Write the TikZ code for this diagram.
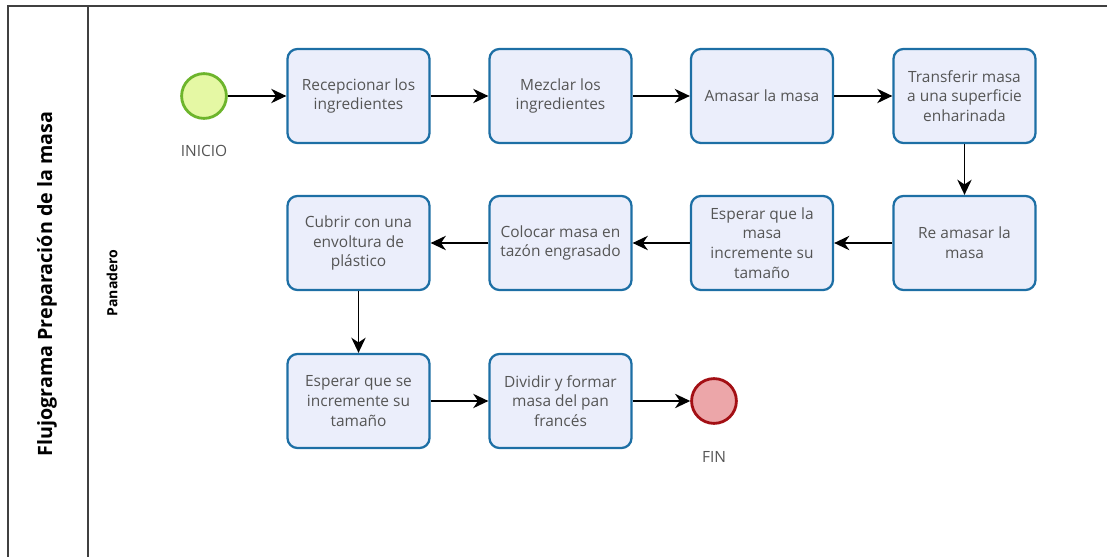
\documentclass[tikz,border=0pt]{standalone}
\usepackage{fontspec}
\setmainfont{Open Sans}
\usetikzlibrary{arrows.meta}
\definecolor{tarea}{HTML}{EBEEFB}
\definecolor{borde}{HTML}{1D6FA5}
\definecolor{texto}{HTML}{555555}
\definecolor{inicio}{HTML}{E5F8A4}
\definecolor{bordeinicio}{HTML}{6DB52C}
\definecolor{fin}{HTML}{ECA6A9}
\definecolor{bordefin}{HTML}{A30F14}
\tikzset{
  tarea/.style={draw=borde, line width=1.6pt, fill=tarea, rounded corners=2.5mm,
    minimum width=3.55cm, minimum height=2.35cm, align=center, text=texto,
    font=\fontsize{11}{14}\selectfont},
  evento/.style={circle, line width=2pt, minimum size=1.12cm, inner sep=0pt},
  etiqueta/.style={text=texto, font=\fontsize{11}{13}\selectfont},
  flujo/.style={-{Stealth[length=3.8mm,width=3.6mm,inset=1.2mm]}, line width=1pt, black}
}
\begin{document}
\begin{tikzpicture}[x=0.025cm,y=-0.025cm]
					\useasboundingbox (0,0) rectangle (1107,557);
					\draw[line width=0.8pt, black!75] (8,557) -- (8,6) -- (1107,6);
					\draw[line width=0.8pt, black!75] (88,6) -- (88,557);
					\node[rotate=90, font=\bfseries\fontsize{14}{16}\selectfont] (titulo) at (47,284) {Flujograma Preparación de la masa};
					\node[rotate=90, font=\bfseries\fontsize{10}{12}\selectfont] (carril) at (112,283) {Panadero};
					\node[evento, draw=bordeinicio, fill=inicio] (s) at (204,96) {};
					\node[etiqueta] (sl) at (204,151) {INICIO};
					\node[tarea] (t1) at (358.5,96) {Recepcionar los\\ingredientes};
					\node[tarea] (t2) at (560.5,96) {Mezclar los\\ingredientes};
					\node[tarea] (t3) at (762,96) {Amasar la masa};
					\node[tarea] (t4) at (964.5,96) {Transferir masa\\a una superficie\\enharinada};
					\node[tarea] (t5) at (964.5,243) {Re amasar la\\masa};
					\node[tarea] (t6) at (762,243) {Esperar que la\\masa\\incremente su\\tamaño};
					\node[tarea] (t7) at (560.5,243) {Colocar masa en\\tazón engrasado};
					\node[tarea] (t8) at (358.5,243) {Cubrir con una\\envoltura de\\plástico};
					\node[tarea] (t9) at (358.5,401) {Esperar que se\\incremente su\\tamaño};
					\node[tarea] (t10) at (560.5,401) {Dividir y formar\\masa del pan\\francés};
					\node[evento, draw=bordefin, fill=fin] (e) at (714,401) {};
					\node[etiqueta] (el) at (714,457) {FIN};
					\draw[flujo] (s) -- (t1);
					\draw[flujo] (t1) -- (t2);
					\draw[flujo] (t2) -- (t3);
					\draw[flujo] (t3) -- (t4);
					\draw[flujo] (t4) -- (t5);
					\draw[flujo] (t5) -- (t6);
					\draw[flujo] (t6) -- (t7);
					\draw[flujo] (t7) -- (t8);
					\draw[flujo] (t8) -- (t9);
					\draw[flujo] (t9) -- (t10);
					\draw[flujo] (t10) -- (e);
\end{tikzpicture}
\end{document}
